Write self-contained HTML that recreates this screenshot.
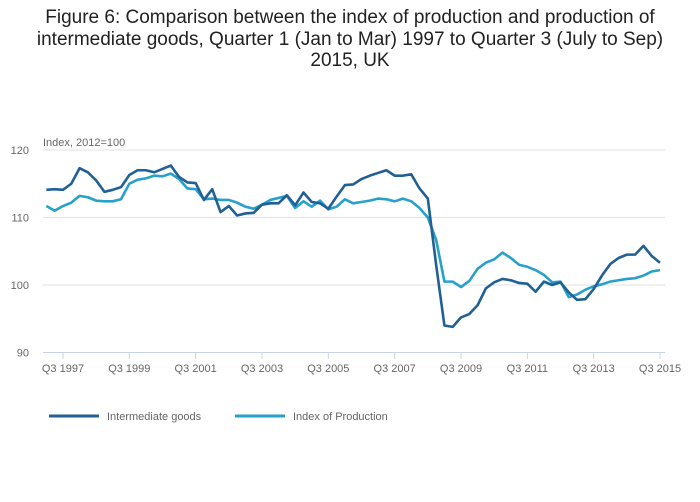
<!DOCTYPE html>
<html><head><meta charset="utf-8"><style>
body{margin:0;background:#fff;font-family:"Liberation Sans",sans-serif}
#wrap{position:relative;width:700px;height:502px;overflow:hidden}
#title{position:absolute;top:7px;left:0;width:700px;text-align:center;font-size:19px;line-height:21.5px;color:#222}
</style></head><body>
<div id="wrap">
<div id="title">Figure 6: Comparison between the index of production and production of<br>intermediate goods, Quarter 1 (Jan to Mar) 1997 to Quarter 3 (July to Sep)<br>2015, UK</div>
<svg id="chart" width="700" height="502" style="position:absolute;left:0;top:0"></svg>
</div>
<script>
const yTicks=[90,100,110,120];
const xTickLabels=["Q3 1997","Q3 1999","Q3 2001","Q3 2003","Q3 2005","Q3 2007","Q3 2009","Q3 2011","Q3 2013","Q3 2015"];
const xTickIndex=[2,10,18,26,34,42,50,58,66,74];
const intermediate=[114.1,114.2,114.1,115,117.3,116.7,115.5,113.8,114.1,114.5,116.3,117,117,116.7,117.2,117.7,116,115.2,115.1,112.6,114.2,110.8,111.7,110.3,110.6,110.7,111.9,112.1,112.1,113.3,111.8,113.7,112.3,112.1,111.3,113.1,114.8,114.9,115.7,116.2,116.6,117,116.2,116.2,116.4,114.3,112.8,103,94,93.8,95.2,95.7,97,99.5,100.4,100.9,100.7,100.3,100.2,99,100.5,100,100.4,98.9,97.8,97.9,99.4,101.4,103.1,104,104.5,104.5,105.8,104.3,103.3];
const production=[111.7,111,111.7,112.2,113.2,113,112.5,112.4,112.4,112.7,115,115.6,115.8,116.2,116.1,116.5,115.7,114.3,114.2,112.7,112.8,112.6,112.6,112.2,111.6,111.3,111.9,112.6,112.9,113.2,111.4,112.4,111.6,112.5,111.2,111.6,112.7,112.1,112.3,112.5,112.8,112.7,112.4,112.8,112.4,111.4,110,106.7,100.5,100.5,99.7,100.6,102.4,103.3,103.8,104.8,104,103,102.7,102.2,101.5,100.4,100.5,98.2,98.6,99.3,99.8,100.1,100.5,100.7,100.9,101,101.4,102,102.2];
const NS="http://www.w3.org/2000/svg";
const svg=document.getElementById('chart');
const x=i=>46.4+i*8.292;
const y=v=>352.5-(v-90)*6.75;
function mk(tag,at){const e=document.createElementNS(NS,tag);for(const k in at)e.setAttribute(k,at[k]);svg.appendChild(e);return e;}
yTicks.forEach(t=>{
 const g=mk('line',{x1:43,x2:665,y1:y(t),y2:y(t),stroke:t===90?'#c8d4e6':'#e2e2e2','stroke-width':1});
 
 
 const l=mk('text',{x:29,y:y(t)+4,'font-size':11,fill:'#666','text-anchor':'end'});
 l.textContent=t;
 
 
});
const yt=mk('text',{x:43,y:146,'font-size':11,fill:'#666'});
yt.textContent='Index, 2012=100';


xTickIndex.forEach((ix,k)=>{
 const t=mk('line',{x1:x(ix),x2:x(ix),y1:353,y2:359,stroke:'#c8d4e6'});
 
 
 const l=mk('text',{x:x(ix),y:372,'font-size':11,fill:'#666','text-anchor':'middle'});
 l.textContent=xTickLabels[k];
 
 
});
function line(arr,color,name){
 const p=mk('polyline',{points:arr.map((v,i)=>x(i)+','+y(v)).join(' '),fill:'none',stroke:color,'stroke-width':2.6,'stroke-linejoin':'round'});
 
 
}
line(production,'#27a0cc','series-index-of-production');
line(intermediate,'#206095','series-intermediate-goods');
function leg(xp,color,txt,name){
 const l=mk('line',{x1:xp,x2:xp+50,y1:416,y2:416,stroke:color,'stroke-width':3});
 
 
 const t=mk('text',{x:xp+58,y:420,'font-size':11,fill:'#666'});
 t.textContent=txt;
 
 
}
leg(49,'#206095','Intermediate goods','legend-intermediate-goods');
leg(235,'#27a0cc','Index of Production','legend-index-of-production');
</script>
</body></html>
